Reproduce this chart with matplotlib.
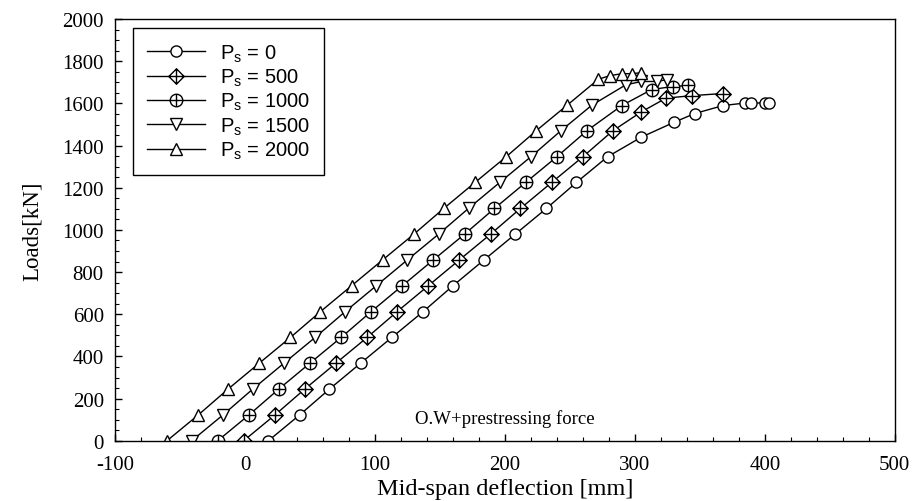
import numpy as np
import matplotlib
matplotlib.use("Agg")
import matplotlib.pyplot as plt
from matplotlib.path import Path
from matplotlib.ticker import MultipleLocator

plt.rcParams['mathtext.fontset'] = 'custom'
plt.rcParams['mathtext.rm'] = 'Liberation Sans'
plt.rcParams['mathtext.it'] = 'Liberation Sans'
plt.rcParams['axes.unicode_minus'] = False

# mid-span deflection [mm] / load [kN] for each prestress level
d_0 = [18, 42, 65, 89, 113, 137, 160, 184, 208, 232, 255, 279, 305, 330, 346, 368, 385, 389, 400, 403]
L_0 = [0, 122, 245, 368, 490, 612, 735, 858, 980, 1102, 1225, 1347, 1440, 1510, 1552, 1590, 1602, 1602, 1602, 1602]

d_500 = [-1, 23, 46, 70, 94, 117, 141, 165, 189, 212, 236, 260, 283, 305, 324, 344, 368]
L_500 = [0, 122, 245, 368, 490, 612, 735, 858, 980, 1102, 1225, 1347, 1470, 1560, 1625, 1637, 1647]

d_1000 = [-21, 3, 26, 50, 74, 97, 121, 145, 169, 192, 216, 240, 263, 290, 313, 329, 341]
L_1000 = [0, 122, 245, 368, 490, 612, 735, 858, 980, 1102, 1225, 1347, 1470, 1590, 1666, 1680, 1685]

d_1500 = [-41, -17, 6, 30, 54, 77, 101, 125, 149, 172, 196, 220, 243, 267, 293, 305, 317, 325]
L_1500 = [0, 122, 245, 368, 490, 612, 735, 858, 980, 1102, 1225, 1347, 1470, 1592, 1688, 1704, 1704, 1713]

d_2000 = [-60, -36, -13, 11, 35, 58, 82, 106, 130, 153, 177, 201, 224, 248, 272, 281, 290, 298, 305]
L_2000 = [0, 122, 245, 368, 490, 612, 735, 858, 980, 1102, 1225, 1347, 1470, 1592, 1715, 1732, 1741, 1741, 1746]

labels = ['0', '500', '1000', '1500', '2000']

# custom markers: circle / diamond with a cross inside
circ = Path.unit_circle()
cross = Path([(-1, 0), (1, 0), (0, -1), (0, 1)],
             [Path.MOVETO, Path.LINETO, Path.MOVETO, Path.LINETO])
circ_plus = Path.make_compound_path(circ, cross)
diam = Path([(0, -1), (1, 0), (0, 1), (-1, 0), (0, -1)],
            [Path.MOVETO, Path.LINETO, Path.LINETO, Path.LINETO, Path.CLOSEPOLY])
diam_plus = Path.make_compound_path(diam, cross)

series = [
    (d_0, L_0, 'o', 8),
    (d_500, L_500, diam_plus, 11),
    (d_1000, L_1000, circ_plus, 9),
    (d_1500, L_1500, 'v', 9),
    (d_2000, L_2000, '^', 9),
]

fig = plt.figure(figsize=(9.14, 5.02), dpi=100)
ax = fig.add_axes([0.1258, 0.120, 0.8532, 0.840])

for (d, L, m, ms), lab in zip(series, labels):
    ax.plot(d, L, color='black', lw=1.0, marker=m, markersize=ms,
            markerfacecolor='white', markeredgecolor='black', markeredgewidth=1.0,
            label='P$_{\\mathrm{s}}$ = ' + lab)

ax.set_xlim(-100, 500)
ax.set_ylim(0, 2000)
ax.xaxis.set_major_locator(MultipleLocator(100))
ax.xaxis.set_minor_locator(MultipleLocator(20))
ax.yaxis.set_major_locator(MultipleLocator(200))
ax.yaxis.set_minor_locator(MultipleLocator(50))
ax.tick_params(which='both', direction='in', top=False, right=False)
ax.tick_params(which='major', length=5, width=1)
ax.tick_params(which='minor', length=3, width=0.8)
ax.tick_params(axis='x', which='major', pad=10)
ax.tick_params(axis='y', which='major', pad=8)
for lbl in ax.get_xticklabels() + ax.get_yticklabels():
    lbl.set_fontfamily('Liberation Serif')
    lbl.set_fontsize(15)
for sp in ax.spines.values():
    sp.set_linewidth(1.0)

ax.set_xlabel('Mid-span deflection [mm]', fontfamily='Liberation Serif', fontsize=17.5, labelpad=3)
ax.set_ylabel('Loads[kN]', fontfamily='Liberation Serif', fontsize=16.5, labelpad=14)

ax.text(200, 110, 'O.W+prestressing force', ha='center', va='center',
        fontfamily='Liberation Serif', fontsize=13.5)

leg = ax.legend(loc='upper left', bbox_to_anchor=(0.023, 0.978), borderaxespad=0,
                fancybox=False, edgecolor='black', framealpha=1, handlelength=2.9,
                prop={'family': 'Liberation Sans', 'size': 14.5},
                labelspacing=0.15, borderpad=0.7, handletextpad=0.7)
leg.get_frame().set_linewidth(1.0)

fig.savefig('out.png', dpi=100)
